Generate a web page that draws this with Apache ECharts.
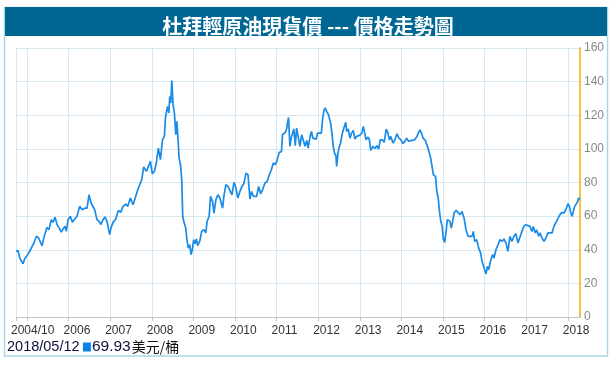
<!DOCTYPE html>
<html>
<head>
<meta charset="utf-8">
<script src="https://cdn.jsdelivr.net/npm/echarts@6/dist/echarts.min.js"></script>
<style>
html,body{margin:0;padding:0;background:#fff;}
#chart{width:616px;height:365px;}
</style>
</head>
<body>
<div id="chart"></div>
<script>
const titleText = '杜拜輕原油現貨價 --- 價格走勢圖';
const legendDate = '2018/05/12';
const legendValue = '69.93';
const legendUnit = '美元/桶';
const xMin = '2004-09-26';
const xMax = '2018-04-18';
const firstLabel = '2004/10';
const yTicks = [0, 20, 40, 60, 80, 100, 120, 140, 160];

const dates = [
'2004-09-26','2004-10-14','2004-10-29','2004-11-15','2004-11-27','2004-12-11','2004-12-26',
'2005-01-15','2005-01-30','2005-02-13','2005-02-28','2005-03-24','2005-04-13','2005-04-28','2005-05-12','2005-06-05','2005-06-25','2005-07-13','2005-08-02','2005-08-17','2005-09-04','2005-09-21','2005-10-09','2005-10-29','2005-11-13','2005-11-30','2005-12-12','2005-12-27',
'2006-01-16','2006-02-03','2006-02-23','2006-03-16','2006-04-08','2006-05-01','2006-05-25','2006-06-12','2006-06-29','2006-07-17','2006-08-03','2006-08-18','2006-09-07','2006-09-25','2006-10-12','2006-10-30','2006-11-16','2006-12-04','2006-12-27',
'2007-01-08','2007-01-26','2007-02-19','2007-03-14','2007-04-03','2007-04-24','2007-05-17','2007-06-04','2007-06-27','2007-07-21','2007-08-07','2007-08-31','2007-09-17','2007-10-05','2007-10-22','2007-11-15','2007-12-02','2007-12-20',
'2008-01-06','2008-01-24','2008-02-10','2008-02-28','2008-03-17','2008-04-04','2008-04-21','2008-04-30','2008-05-18','2008-05-30','2008-06-07','2008-06-16','2008-06-25','2008-07-06','2008-07-18','2008-07-30','2008-08-08','2008-08-19','2008-08-28','2008-09-09','2008-09-20','2008-09-29','2008-10-10','2008-10-25','2008-11-05','2008-11-17','2008-11-29','2008-12-11','2008-12-22',
'2009-01-03','2009-01-15','2009-01-27','2009-02-07','2009-02-25','2009-03-15','2009-04-02','2009-04-19','2009-05-01','2009-05-19','2009-05-31','2009-06-18','2009-06-30','2009-07-17','2009-08-04','2009-08-21','2009-09-02','2009-09-14','2009-09-25','2009-10-13','2009-10-31','2009-11-17','2009-12-05','2009-12-23',
'2010-01-09','2010-01-26','2010-02-13','2010-03-03','2010-03-20','2010-04-07','2010-04-25','2010-05-12','2010-05-27','2010-06-11','2010-06-25','2010-07-10','2010-07-27','2010-08-14','2010-08-31','2010-09-21','2010-10-11','2010-10-29','2010-11-16','2010-12-03','2010-12-21',
'2011-01-07','2011-01-24','2011-02-13','2011-02-22','2011-03-06','2011-03-18','2011-03-30','2011-04-07','2011-04-16','2011-04-28','2011-05-09','2011-05-21','2011-06-02','2011-06-14','2011-06-26','2011-07-13','2011-07-25','2011-08-09','2011-08-24','2011-09-08','2011-09-23','2011-10-05','2011-10-22','2011-11-03','2011-11-15','2011-12-02','2011-12-14','2011-12-26',
'2012-01-12','2012-01-29','2012-02-10','2012-02-21','2012-03-03','2012-03-15','2012-04-01','2012-04-19','2012-05-01','2012-05-12','2012-05-24','2012-06-05','2012-06-11','2012-06-23','2012-07-05','2012-07-16','2012-07-28','2012-08-09','2012-08-21','2012-08-30','2012-09-07','2012-09-22','2012-10-06','2012-10-21','2012-11-04','2012-11-19','2012-12-03','2012-12-18',
'2013-01-01','2013-01-19','2013-01-31','2013-02-12','2013-02-24','2013-03-14','2013-03-26','2013-04-07','2013-04-25','2013-05-13','2013-05-31','2013-06-15','2013-06-29','2013-07-17','2013-08-03','2013-08-21','2013-09-05','2013-09-17','2013-09-30','2013-10-19','2013-11-05','2013-11-23','2013-12-10','2013-12-28',
'2014-01-14','2014-01-31','2014-02-16','2014-03-05','2014-03-23','2014-04-09','2014-04-27','2014-05-15','2014-06-01','2014-06-13','2014-06-25','2014-07-12','2014-07-30','2014-08-17','2014-09-03','2014-09-15','2014-09-27','2014-10-09','2014-10-27','2014-11-08','2014-11-20','2014-12-01','2014-12-13','2014-12-25',
'2015-01-05','2015-01-16','2015-01-27','2015-02-08','2015-02-20','2015-03-03','2015-03-15','2015-03-27','2015-04-08','2015-04-26','2015-05-13','2015-05-31','2015-06-17','2015-07-05','2015-07-22','2015-08-09','2015-08-26','2015-09-13','2015-09-25','2015-10-06','2015-10-24','2015-11-10','2015-11-28','2015-12-10','2015-12-21',
'2016-01-02','2016-01-14','2016-01-26','2016-02-06','2016-02-24','2016-03-12','2016-03-24','2016-04-10','2016-04-28','2016-05-15','2016-06-02','2016-06-19','2016-07-07','2016-07-24','2016-08-11','2016-08-28','2016-09-15','2016-10-02','2016-10-20','2016-11-06','2016-11-24','2016-12-11','2016-12-29',
'2017-01-15','2017-02-02','2017-02-20','2017-03-04','2017-03-21','2017-04-02','2017-04-20','2017-05-01','2017-05-19','2017-06-06','2017-06-23','2017-07-11','2017-07-28','2017-08-15','2017-09-01','2017-09-19','2017-10-06','2017-10-24','2017-11-10','2017-11-28','2017-12-15',
'2018-01-02','2018-01-14','2018-01-26','2018-02-07','2018-02-18','2018-03-02','2018-03-14','2018-03-26','2018-04-06','2018-04-18'
];

const prices = [
38.9,39.6,35,34,31.7,34.5,33.7,
38,40,39.4,43.6,48,47,46,42.4,49,53.3,52,57.9,56.3,59.3,55,53,50.5,52.3,54,51,57.9,
59.9,56.3,58.3,59.9,65.8,63.8,64.8,64.8,72.7,67.8,68.8,63.8,57.9,56.9,55,57.9,59.5,56.9,49,
53,56.3,58.3,63.4,62.2,65.8,67.2,65.8,70.8,66.8,66.8,75.7,76.7,81.7,89.2,86.6,86.6,92.6,
85.2,86.6,91.6,100.5,93.6,105.4,107.4,118.3,125.3,121.3,131.2,127.3,140.7,126.3,121.3,108.4,116.4,105.4,94.5,90.6,81.7,59.9,56.3,53,46,41,43,37.1,40,
46,43.6,46.4,42.4,45,51,52,50,56.9,59.9,71.8,68.8,61.8,69.8,72.7,70.8,67.8,64.8,71.8,78.7,77.7,78.1,72.7,80.1,
76.7,70.8,74.7,77.7,79.3,85.6,84.6,70.2,74.7,71.8,72.7,71.8,77.7,73.3,75.7,79.7,80.7,84.6,87.6,91.6,90.6,
93.6,97.9,98.5,108.4,109.4,109.8,111.8,115.4,118.7,101.5,106.4,105.4,111.8,101.9,112.4,112.4,101.5,108.4,107.4,101.5,105,100.5,107.4,110.4,106.4,107.4,105.8,109.4,
109.8,109.4,118.3,122.9,124.3,122.3,120.3,115.4,109.4,101.5,97.5,95.9,89.6,97.5,101.5,103.5,108.4,111.4,112.4,115.8,110.4,111.8,106.4,109.4,111,105.8,107.4,107.8,
108.2,109.4,113.4,109.8,105.4,107,105.4,99.1,101.5,100.3,101.9,99.9,105.4,105.4,103.9,111.8,109.4,105.4,107.4,103.5,105.4,109,106.4,105.4,
103.1,104.5,106.4,104.5,104.9,105.8,105.4,107,109.8,111.4,109.4,106.2,105,101.5,97.5,94.5,89.6,84.6,83.6,74.7,70.8,62.8,56.9,53.9,
46,44.4,50,57.9,58.9,56.9,52.9,56.9,61.8,63.4,64.2,60.9,62.8,58.9,51.9,48,47,48,50.9,45,46,41,38,33.1,32.1,
28.1,25.6,30.1,28.1,33.7,37.1,35,40,43,46,45,46.4,44,39,48,45,48,49.6,44,44,50.9,53.9,54.9,
54.3,53.9,50.9,53.9,50,51.9,48,50,47,45,47,50,50.9,50,53.9,56.3,56.3,60.9,62.2,61.8,63.8,
67.4,66.2,62.2,59.9,62.8,65.8,66.8,68.2,70.8,69.93
];

const seriesData = dates.map((d, i) => [d, prices[i]]);

const chart = echarts.init(document.getElementById('chart'), null, {renderer: 'canvas'});
const YEAR = 365 * 24 * 3600 * 1000;

chart.setOption({
  animation: false,
  backgroundColor: '#ffffff',
  graphic: [
    {type: 'rect', z: 0, shape: {x: 4.5, y: 7.5, width: 603, height: 348.5},
     style: {fill: '#ffffff', stroke: '#aad8e8', lineWidth: 1.5}},
    {type: 'rect', z: 1, shape: {x: 5, y: 7, width: 602, height: 29},
     style: {fill: '#006795'}},
    {type: 'text', z: 2, left: 7, top: 339,
     style: {
       text: '{d|' + legendDate + '} {sq|}{v|' + legendValue + '}{u|' + legendUnit + '}',
       rich: {
         d: {fontFamily: 'Liberation Sans, Arial', fontSize: 14.5, fill: '#101040'},
         sq: {width: 8, height: 9, backgroundColor: '#0a84e4'},
         v: {fontFamily: 'Liberation Sans, Arial', fontSize: 15.5, fill: '#101040', padding: [0, 1, 0, 1]},
         u: {fontFamily: 'Noto Sans CJK TC', fontSize: 14, fill: '#111111'}
       }
     }}
  ],
  title: {
    text: titleText,
    left: 'center',
    top: 7,
    textStyle: {color: '#ffffff', fontSize: 20, fontWeight: 'bold', fontFamily: 'Noto Sans CJK TC', lineHeight: 29}
  },
  grid: {left: 16, right: 36, top: 48, bottom: 48, show: true, borderColor: '#c8c8c8', borderWidth: 1, backgroundColor: 'transparent', containLabel: false},
  xAxis: {
    type: 'time',
    min: xMin,
    max: xMax,
    minInterval: YEAR,
    maxInterval: YEAR + 86400000,
    splitNumber: 14,
    axisLine: {show: true, lineStyle: {color: '#c4c4c4', width: 1}},
    axisTick: {show: true, length: 4, lineStyle: {color: '#c4c4c4'}},
    splitLine: {show: true, lineStyle: {color: '#d7e8f1', width: 1}},
    axisLabel: {
      show: true,
      showMinLabel: true,
      showMaxLabel: false,
      hideOverlap: false,
      align: 'left',
      padding: [0, 0, 0, -5],
      margin: 8,
      color: '#333333',
      fontSize: 12,
      fontFamily: 'Liberation Sans, Arial',
      formatter: function (val) {
        const d = new Date(val);
        if (d.getMonth() === 0 && d.getDate() === 1) {
          const y = d.getFullYear();
          return y === 2005 ? '' : String(y);
        }
        if (d.getFullYear() === 2004) return firstLabel;
        return '';
      }
    }
  },
  yAxis: {
    type: 'value',
    position: 'right',
    min: yTicks[0],
    max: yTicks[yTicks.length - 1],
    interval: 20,
    axisLine: {show: true, lineStyle: {color: '#f5c344', width: 2}},
    axisTick: {show: false},
    splitLine: {show: true, lineStyle: {color: '#d7e8f1', width: 1}},
    axisLabel: {color: '#888888', fontSize: 12, margin: 4, fontFamily: 'Liberation Sans, Arial'}
  },
  series: [{
    type: 'line',
    data: seriesData,
    showSymbol: false,
    symbol: 'none',
    lineStyle: {color: '#1a8be6', width: 1.7},
    itemStyle: {color: '#1a8be6'},
    z: 5
  }]
});
</script>
</body>
</html>
